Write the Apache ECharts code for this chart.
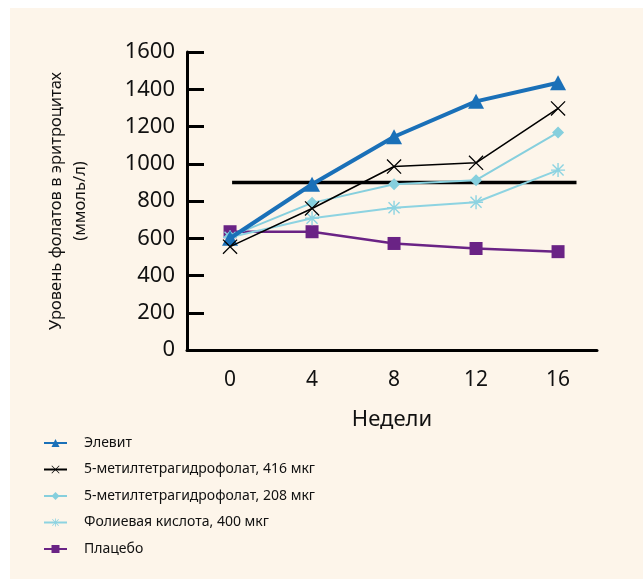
<!DOCTYPE html>
<html><head><meta charset="utf-8">
<script src="https://cdn.jsdelivr.net/npm/echarts@6/dist/echarts.min.js"></script>
<style>
html,body{margin:0;padding:0;background:#fff;}
#bg{position:absolute;left:10px;top:8px;right:0;bottom:0;background:#fdf5ea;}
#c{position:absolute;left:0;top:0;width:643px;height:579px;}
</style></head>
<body><div id="bg"></div><div id="c"></div>
<script>
const weeks = [0, 4, 8, 12, 16];
const xTickLabels = [0, 4, 8, 12, 16];
const elevit = [600, 890, 1145, 1335, 1435];
const mthf416 = [555, 760, 985, 1005, 1297];
const mthf208 = [610, 790, 890, 912, 1168];
const folic400 = [605, 707, 764, 793, 966];
const placebo = [635, 635, 572, 545, 528];
const thresholdX = [0.1, 16.9];
const thresholdY = [900, 900];
const names = ['Элевит', '5-метилтетрагидрофолат, 416 мкг', '5-метилтетрагидрофолат, 208 мкг', 'Фолиевая кислота, 400 мкг', 'Плацебо'];

const FONT = 'Noto Sans';
const crossPath = 'path://M1.2,0 L20,18.8 L18.8,20 L0,1.2 Z M18.8,0 L20,1.2 L1.2,20 L0,18.8 Z';
const starPath = 'path://M9,0 L11,0 L11,20 L9,20 Z M0,9 L20,9 L20,11 L0,11 Z M2.8,1.4 L18.6,17.2 L17.2,18.6 L1.4,2.8 Z M17.2,1.4 L18.6,2.8 L2.8,18.6 L1.4,17.2 Z';

function pairs(xs, ys){ return xs.map((x,i)=>[x, ys[i]]); }

const chart = echarts.init(document.getElementById('c'));
chart.setOption({
  animation: false,
  backgroundColor: 'transparent',
  textStyle: {fontFamily: FONT},
  grid: {left: 187, right: 46, top: 52, bottom: 229, containLabel: false},
  legend: {
    orient: 'vertical', left: 43, top: 434, padding: 0, itemWidth: 23, itemHeight: 10, itemGap: 8.5,
    data: names,
    textStyle: {fontFamily: FONT, fontSize: 14, lineHeight: 18, color: '#111', padding: [0,0,0,12]}
  },
  xAxis: {
    type: 'value', min: -2.1, max: 17.9,
    name: 'Недели', nameLocation: 'middle', nameGap: 59,
    nameTextStyle: {fontFamily: FONT, fontSize: 22, color: '#111'},
    axisLine: {show: true, onZero: false, lineStyle: {color: '#000', width: 3}},
    axisTick: {show: false},
    splitLine: {show: false},
    axisLabel: {customValues: xTickLabels, margin: 20, fontSize: 21, color: '#111', fontFamily: FONT}
  },
  yAxis: {
    type: 'value', min: 0, max: 1600, interval: 200,
    name: 'Уровень фолатов в эритроцитах\n(ммоль/л)', nameLocation: 'middle', nameGap: 95, nameRotate: 90,
    nameTextStyle: {fontFamily: FONT, fontSize: 16.5, lineHeight: 24, color: '#111'},
    axisLine: {show: true, onZero: false, lineStyle: {color: '#000', width: 3}},
    axisTick: {show: true, inside: true, length: 17, lineStyle: {color: '#000', width: 3}},
    splitLine: {show: false},
    axisLabel: {margin: 12, fontSize: 22, color: '#111', fontFamily: FONT, formatter: v => String(v)}
  },
  series: [
    {name: 'threshold', type: 'line', data: pairs(thresholdX, thresholdY), symbol: 'none',
     lineStyle: {color: '#000', width: 3.5}, z: 1, silent: true},
    {name: names[4], type: 'line', data: pairs(weeks, placebo), symbol: 'rect', symbolSize: 13,
     itemStyle: {color: '#6a2385'}, lineStyle: {color: '#6a2385', width: 2.5}, z: 2},
    {name: names[3], type: 'line', data: pairs(weeks, folic400), symbol: starPath, symbolSize: 14,
     itemStyle: {color: '#8dd3e1'}, lineStyle: {color: '#8dd3e1', width: 2}, z: 3},
    {name: names[2], type: 'line', data: pairs(weeks, mthf208), symbol: 'diamond', symbolSize: 12,
     itemStyle: {color: '#86cfdd'}, lineStyle: {color: '#86cfdd', width: 2}, z: 4},
    {name: names[0], type: 'line', data: pairs(weeks, elevit), symbol: 'triangle', symbolSize: [16, 15],
     itemStyle: {color: '#1a70b8'}, lineStyle: {color: '#1a70b8', width: 4}, z: 5},
    {name: names[1], type: 'line', data: pairs(weeks, mthf416), symbol: crossPath, symbolSize: 15,
     itemStyle: {color: '#000'}, lineStyle: {color: '#000', width: 1.6}, z: 6}
  ]
});
</script></body></html>
